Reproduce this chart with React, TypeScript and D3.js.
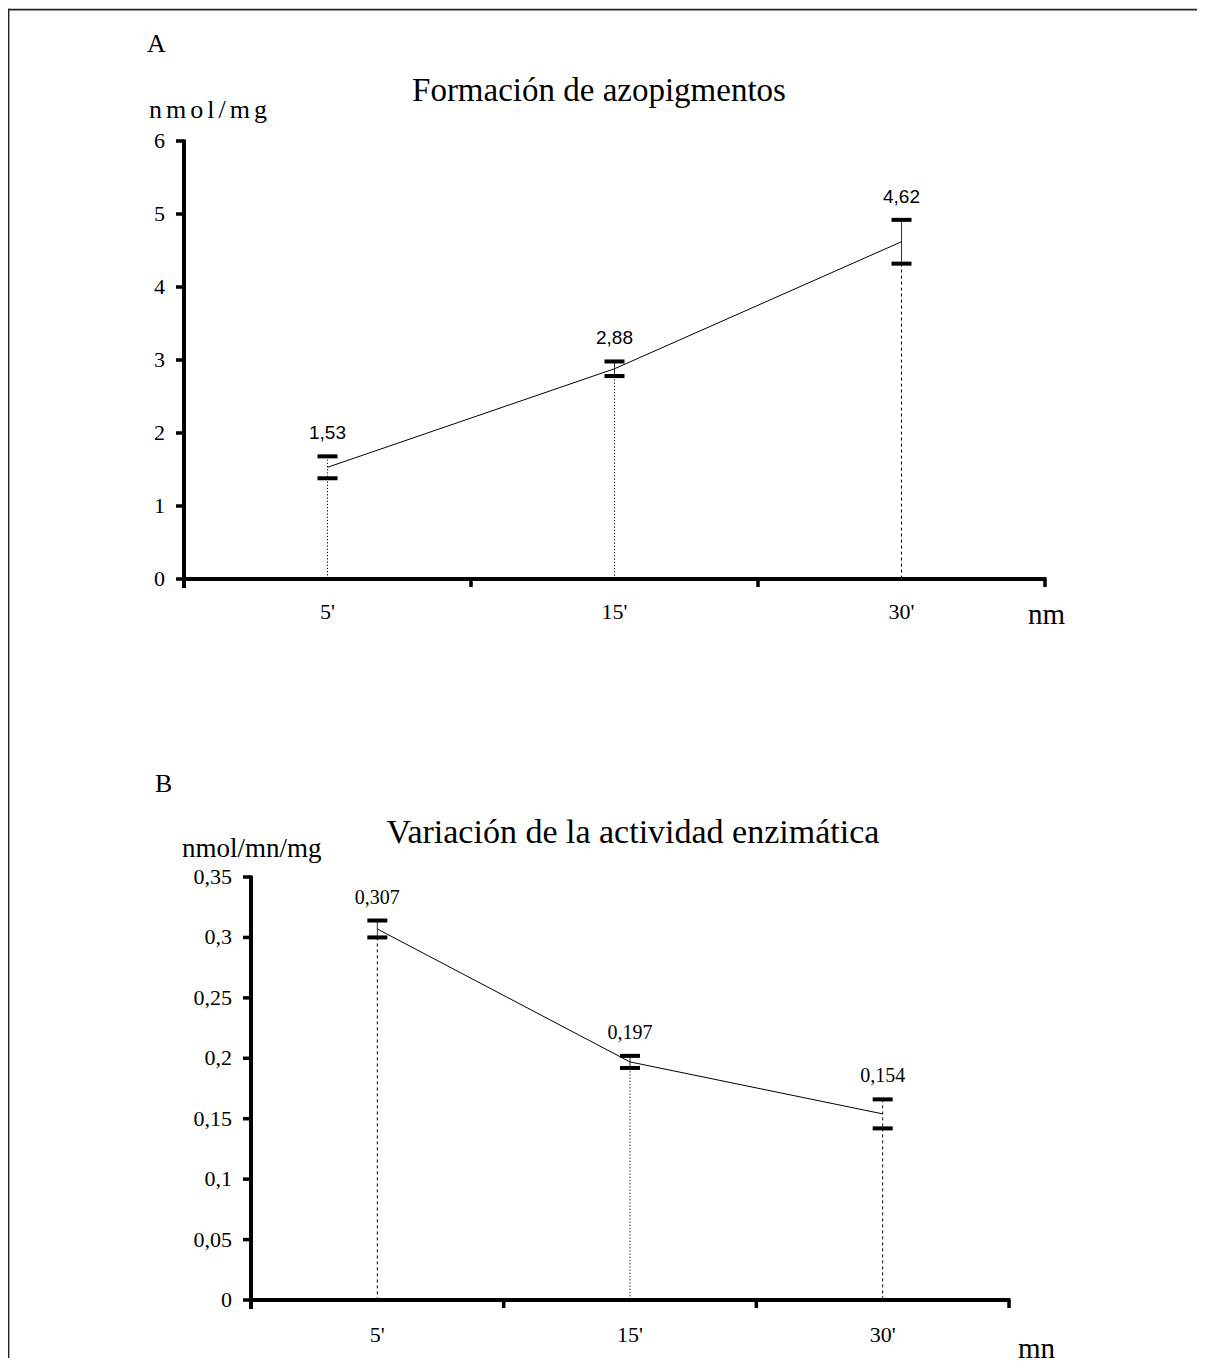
import React from "react";
import * as d3 from "d3";

// ---- Data ----
const categories = ["5'", "15'", "30'"];

const meansA = [1.53, 2.88, 4.62];
const errA = [0.15, 0.1, 0.3];
const labelsA = ["1,53", "2,88", "4,62"];
const yTicksA = [0, 1, 2, 3, 4, 5, 6];

const meansB = [0.307, 0.197, 0.154];
const errB = [0.007, 0.005, 0.012];
const labelsB = ["0,307", "0,197", "0,154"];
const yTicksB = [0, 0.05, 0.1, 0.15, 0.2, 0.25, 0.3, 0.35];

const SERIF = "'Liberation Serif', 'Times New Roman', serif";
const SANS = "'Liberation Sans', Arial, sans-serif";

type PanelProps = {
  left: number;
  right: number;
  top: number;
  bottom: number;
  yMax: number;
  ticks: number[];
  fmt: (v: number) => string;
  means: number[];
  errs: number[];
  labels: string[];
  labelFont: string;
  labelSize: number;
  solidWhisker: boolean[];
  dash: string[];
  catBaseline: number;
};

function Panel(p: PanelProps) {
  const x = d3.scaleBand<string>().domain(categories).range([p.left, p.right]).padding(0);
  const y = d3.scaleLinear().domain([0, p.yMax]).range([p.bottom, p.top]);
  const cx = (c: string) => (x(c) as number) + x.bandwidth() / 2;
  const line = d3
    .line<number>()
    .x((_, i) => cx(categories[i]))
    .y((d) => y(d));
  const boundaries = categories.map((c) => (x(c) as number) + x.bandwidth());
  return (
    <g>
      {/* y axis */}
      <line x1={p.left} x2={p.left} y1={y(p.yMax) - 1.5} y2={p.bottom + 9} stroke="#000" strokeWidth={4} />
      {p.ticks.map((t) => (
        <g key={t}>
          <line x1={p.left - 8} x2={p.left} y1={y(t)} y2={y(t)} stroke="#000" strokeWidth={3.5} />
          <text x={p.left - 19} y={y(t) + 7} textAnchor="end" fontFamily={SERIF} fontSize={22} fill="#000">
            {p.fmt(t)}
          </text>
        </g>
      ))}
      {/* x axis */}
      <line x1={p.left} x2={p.right + 1.5} y1={p.bottom} y2={p.bottom} stroke="#000" strokeWidth={4} />
      {boundaries.map((b, i) => (
        <line key={i} x1={b} x2={b} y1={p.bottom} y2={p.bottom + 8} stroke="#000" strokeWidth={3.5} />
      ))}
      {categories.map((c) => (
        <text key={c} x={cx(c)} y={p.catBaseline} textAnchor="middle" fontFamily={SERIF} fontSize={22} fill="#000">
          {c}
        </text>
      ))}
      {/* drop lines */}
      {categories.map((c, i) => (
        <line
          key={"d" + c}
          x1={cx(c)}
          x2={cx(c)}
          y1={y(p.means[i] - p.errs[i])}
          y2={p.bottom}
          stroke="#000"
          strokeWidth={1}
          strokeDasharray={p.dash[i]}
        />
      ))}
      {/* whiskers */}
      {categories.map((c, i) => (
        <line
          key={"w" + c}
          x1={cx(c)}
          x2={cx(c)}
          y1={y(p.means[i] + p.errs[i])}
          y2={y(p.means[i] - p.errs[i])}
          stroke="#000"
          strokeWidth={1}
          strokeDasharray={p.solidWhisker[i] ? undefined : p.dash[i]}
          opacity={p.solidWhisker[i] ? 0.8 : 0.9}
        />
      ))}
      {/* mean line */}
      <path d={line(p.means) || ""} fill="none" stroke="#000" strokeWidth={1} />
      {/* caps */}
      {categories.map((c, i) => (
        <g key={"c" + c}>
          <rect x={cx(c) - 10} y={y(p.means[i] + p.errs[i]) - 2} width={20} height={4} fill="#000" />
          <rect x={cx(c) - 10} y={y(p.means[i] - p.errs[i]) - 2} width={20} height={4} fill="#000" />
        </g>
      ))}
      {/* value labels */}
      {categories.map((c, i) => (
        <text
          key={"l" + c}
          x={cx(c)}
          y={y(p.means[i] + p.errs[i]) - 17}
          textAnchor="middle"
          fontFamily={p.labelFont}
          fontSize={p.labelSize}
          fill="#000"
        >
          {p.labels[i]}
        </text>
      ))}
    </g>
  );
}

export default function App() {
  const fmtB = (v: number) => String(+v.toFixed(2)).replace(".", ",");
  return (
    <svg width={1197} height={1350} style={{ display: "block", overflow: "visible" }}>
      <g transform="translate(-8,-8)">
        <line x1={7.6} x2={1205} y1={9.6} y2={9.6} stroke="#222" strokeWidth={1.8} />
        <line x1={8.5} x2={8.5} y1={8.7} y2={1366} stroke="#222" strokeWidth={1.8} />

        {/* Panel A */}
        <text x={147} y={52} fontFamily={SERIF} fontSize={26} fill="#000">A</text>
        <text x={599} y={101} textAnchor="middle" fontFamily={SERIF} fontSize={33} fill="#000">
          Formación de azopigmentos
        </text>
        <text x={149} y={118} fontFamily={SERIF} fontSize={26} letterSpacing={4} fill="#000">nmol/mg</text>
        <Panel
          left={184}
          right={1045}
          top={141}
          bottom={579}
          yMax={6}
          ticks={yTicksA}
          fmt={(v) => String(v)}
          means={meansA}
          errs={errA}
          labels={labelsA}
          labelFont={SANS}
          labelSize={19}
          solidWhisker={[false, true, true]}
          dash={["1.2,2", "1.2,2", "3,3"]}
          catBaseline={619}
        />
        <text x={1028} y={624} fontFamily={SERIF} fontSize={29} fill="#000">nm</text>

        {/* Panel B */}
        <text x={155} y={792} fontFamily={SERIF} fontSize={26} fill="#000">B</text>
        <text x={633} y={843} textAnchor="middle" fontFamily={SERIF} fontSize={34} fill="#000">
          Variación de la actividad enzimática
        </text>
        <text x={182} y={857} fontFamily={SERIF} fontSize={27} fill="#000">nmol/mn/mg</text>
        <Panel
          left={251}
          right={1009}
          top={877}
          bottom={1300}
          yMax={0.35}
          ticks={yTicksB}
          fmt={fmtB}
          means={meansB}
          errs={errB}
          labels={labelsB}
          labelFont={SERIF}
          labelSize={20}
          solidWhisker={[true, true, false]}
          dash={["3,3", "1.2,2", "3,3"]}
          catBaseline={1342}
        />
        <text x={1018} y={1358} fontFamily={SERIF} fontSize={29} fill="#000">mn</text>
      </g>
    </svg>
  );
}
